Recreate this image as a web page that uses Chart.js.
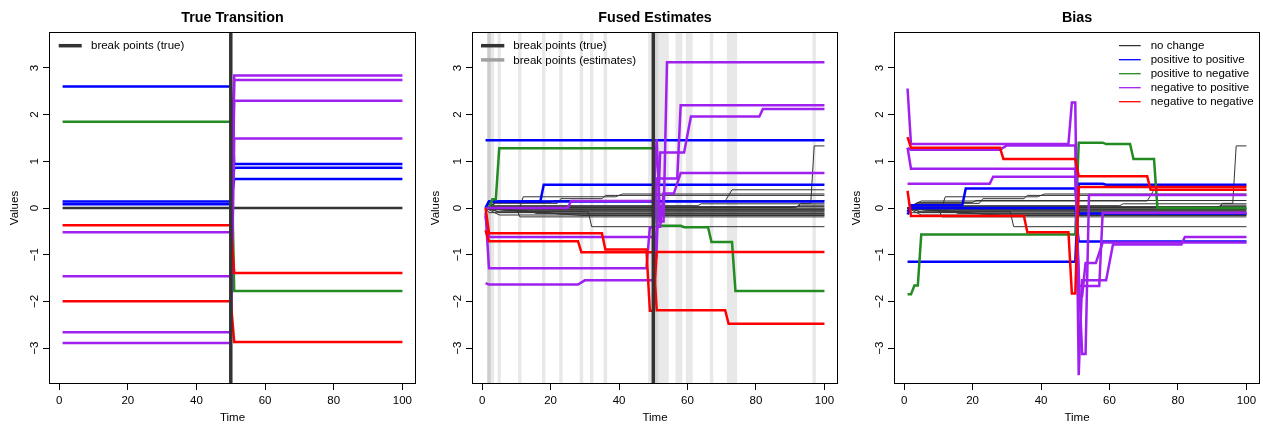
<!DOCTYPE html>
<html>
<head>
<meta charset="utf-8">
<script src="https://cdn.jsdelivr.net/npm/chart.js@4.4.1/dist/chart.umd.min.js"></script>
<style>
  body { margin: 0; background: #fff; }
  #wrap { position: relative; width: 1263px; height: 424px; }
  #wrap canvas { position: absolute; top: 0; }
</style>
</head>
<body>
<div id="wrap">
  <canvas id="c1" width="421" height="424" style="left:0px"></canvas>
  <canvas id="c2" width="421" height="424" style="left:421px"></canvas>
  <canvas id="c3" width="421" height="424" style="left:842px"></canvas>
</div>
<script>
// axes
const xTicks = [0, 20, 40, 60, 80, 100];
const yTicks = [-3, -2, -1, 0, 1, 2, 3];
const xMin = -2.96, xMax = 103.96;
const yMin = -3.77, yMax = 3.77;

// break points
const trueBreak = 50;
const estBreaks = [2, 2, 2, 3, 5, 11, 18, 23, 29, 32, 36, 49, 51, 51, 52, 53, 54, 57, 58, 60, 61, 67, 72, 73, 74, 97];

// true levels [before, after]
const trueNoChange = [[0, 0]];
const truePosPos = [[2.60, 0.94], [0.08, 0.62], [0.14, 0.86]];
const truePosNeg = [[1.85, -1.78]];
const trueNegPos = [[-2.66, 2.74], [-1.46, 2.30], [-0.52, 2.84], [-2.89, 1.49]];
const trueNegNeg = [[-2.00, -2.87], [-0.37, -1.39]];

// fused estimates, [time, value] vertices of each path
const fusedNoChange = [
  [[1, 0], [11, 0], [12, 0.24], [39, 0.24], [41, 0.30], [100, 0.30]],
  [[1, 0], [5, 0.15], [71, 0.15], [73, 0.39], [100, 0.39]],
  [[1, 0], [92, 0.02], [93, 0.10], [96, 0.10], [97, 1.33], [100, 1.33]],
  [[1, 0], [5, -0.08], [31, -0.08], [32, -0.40], [100, -0.40]],
  [[1, 0], [10, 0], [11, -0.19], [100, -0.19]],
  [[1, 0], [4, 0.10], [22, 0.10], [23, 0.20], [35, 0.20], [36, 0.27], [100, 0.27]],
  [[1, 0], [3, 0.05], [63, 0.05], [64, 0.09], [100, 0.09]],
  [[1, 0], [2, 0.03], [100, 0.03]],
  [[1, 0], [6, -0.05], [100, -0.05]],
  [[1, 0], [2, -0.10], [15, -0.10], [16, -0.12], [100, -0.12]],
  [[1, 0], [5, -0.15], [100, -0.15]],
  [[1, 0], [11, -0.07], [100, -0.07]],
  [[1, 0], [3, -0.03], [100, -0.03]],
  [[1, 0], [100, 0]],
  [[1, 0], [2, 0.01], [91, 0.01], [93, 0.06], [100, 0.06]],
  [[1, 0], [5, -0.09], [100, -0.09]],
  [[1, 0], [18, -0.02], [100, -0.02]],
  [[1, 0], [23, -0.13], [100, -0.13]],
  [[1, 0], [29, -0.16], [100, -0.16]],
  [[1, 0], [4, 0.12], [20, 0.12], [21, 0.16], [100, 0.16]]
];
const fusedPosPos = [
  [[1, 1.45], [100, 1.45]],
  [[1, 0], [2, 0.14], [17, 0.14], [18, 0.50], [100, 0.50]],
  [[1, 0], [2, 0.14], [100, 0.14]]
];
const fusedPosNeg = [
  [[1, 0], [2, 0], [3, 0.19], [4, 0.19], [5, 1.28], [50, 1.28], [51, -0.38], [58, -0.38], [59, -0.41], [66, -0.41], [67, -0.73], [73, -0.73], [74, -1.78], [100, -1.78]]
];
const fusedNegPos = [
  [[1, -0.10], [2, -1.29], [48, -1.29], [49, -0.41], [50, -0.41], [51, -0.84], [52, 1.19], [59, 1.19], [61, 1.96], [81, 1.96], [82, 2.12], [100, 2.12]],
  [[1, -0.17], [2, -0.62], [50, -0.62], [51, 0.63], [57, 0.63], [58, 2.20], [100, 2.20]],
  [[1, 0], [25, 0], [26, 0.15], [50, 0.15], [51, 1.47], [52, -0.29], [53, -0.29], [54, 3.12], [100, 3.12]],
  [[1, -1.61], [2, -1.64], [28, -1.64], [30, -1.55], [50, -1.55], [51, -0.40], [52, -0.40], [53, 0.31], [56, 0.31], [58, 0.75], [100, 0.75]]
];
const fusedNegNeg = [
  [[1, -0.48], [2, -0.71], [28, -0.71], [29, -0.95], [50, -0.95], [51, -2.19], [71, -2.19], [72, -2.48], [100, -2.48]],
  [[1, 0], [2, -0.54], [35, -0.54], [36, -0.89], [48, -0.89], [49, -2.20], [50, -2.20], [51, -0.94], [100, -0.94]]
];

// bias paths (no change series have a true value of 0, so their bias is the estimate)
const biasNoChange = fusedNoChange;
const biasPosPos = [
  [[1, -1.15], [50, -1.15], [51, 0.52], [58, 0.52], [59, 0.50], [100, 0.50]],
  [[1, -0.08], [2, 0.06], [17, 0.06], [18, 0.42], [50, 0.42], [51, -0.12], [100, -0.12]],
  [[1, -0.14], [2, 0], [50, 0], [51, -0.72], [100, -0.72]]
];
const biasPosNeg = [
  [[1, -1.85], [2, -1.85], [3, -1.66], [4, -1.66], [5, -0.57], [50, -0.57], [51, 1.40], [58, 1.40], [59, 1.37], [66, 1.37], [67, 1.05], [73, 1.05], [74, 0], [100, 0]]
];
const biasNegPos = [
  [[1, 2.56], [2, 1.37], [48, 1.37], [49, 2.26], [50, 2.26], [51, -3.58], [52, -1.55], [59, -1.55], [61, -0.78], [81, -0.78], [82, -0.62], [100, -0.62]],
  [[1, 1.29], [2, 0.84], [50, 0.84], [51, -1.67], [57, -1.67], [58, -0.10], [100, -0.10]],
  [[1, 0.52], [25, 0.52], [26, 0.67], [50, 0.67], [51, -1.37], [52, -3.13], [53, -3.13], [54, 0.28], [100, 0.28]],
  [[1, 1.28], [2, 1.25], [28, 1.25], [30, 1.34], [50, 1.34], [51, -1.89], [52, -1.89], [53, -1.18], [56, -1.18], [58, -0.74], [100, -0.74]]
];
const biasNegNeg = [
  [[1, 1.52], [2, 1.29], [28, 1.29], [29, 1.05], [50, 1.05], [51, 0.68], [71, 0.68], [72, 0.39], [100, 0.39]],
  [[1, 0.37], [2, -0.17], [35, -0.17], [36, -0.52], [48, -0.52], [49, -1.83], [50, -1.83], [51, 0.45], [100, 0.45]]
];

const colNone = '#333333', colPP = '#0000ff', colPN = '#228b22', colNP = '#a020f0', colNN = '#ff0000';
const colTrueBreak = '#333333', colEstLegend = '#a0a0a0', colEstBand = 'rgba(180,180,180,0.3)';

Chart.defaults.font.family = '"Liberation Sans", Arial, Helvetica, sans-serif';
Chart.defaults.color = '#000';

function lineSet(points, color, width) {
  return {
    data: points.map(p => ({ x: p[0], y: p[1] })),
    borderColor: color,
    borderWidth: width,
    pointRadius: 0,
    tension: 0,
    fill: false
  };
}

function vLine(t, color, width) {
  return lineSet([[t, yMin], [t, yMax]], color, width);
}

function stepPath(pair) {
  return [[1, pair[0]], [trueBreak, pair[0]], [trueBreak + 1, pair[1]], [100, pair[1]]];
}

// box round the plot region
const boxPlugin = {
  id: 'box',
  afterDraw(chart) {
    const a = chart.chartArea, ctx = chart.ctx;
    ctx.save();
    ctx.strokeStyle = '#000';
    ctx.lineWidth = 1;
    ctx.strokeRect(a.left + 0.5, a.top + 0.5, a.right - a.left - 1, a.bottom - a.top - 1);
    ctx.restore();
  }
};

// legend drawn inside the plot, as in R
const rLegend = {
  id: 'rlegend',
  afterDraw(chart, args, opts) {
    if (!opts.items) return;
    const a = chart.chartArea, ctx = chart.ctx;
    ctx.save();
    ctx.font = '11.5px "Liberation Sans", Arial, sans-serif';
    ctx.textBaseline = 'middle';
    ctx.textAlign = 'left';
    opts.items.forEach((it, i) => {
      const y = a.top + opts.y0 + i * opts.dy;
      ctx.strokeStyle = it.color;
      ctx.lineWidth = it.width;
      ctx.beginPath();
      ctx.moveTo(a.left + opts.x1, y);
      ctx.lineTo(a.left + opts.x2, y);
      ctx.stroke();
      ctx.fillStyle = '#000';
      ctx.fillText(it.label, a.left + opts.tx, y + 0.5);
    });
    ctx.restore();
  }
};

function minus(v) {
  return v < 0 ? '\u2212' + Math.abs(v) : String(v);
}

function makeChart(id, title, datasets, leftW, rightPad, legend) {
  // datasets listed bottom to top; chart.js paints index 0 last
  datasets.reverse();
  return new Chart(document.getElementById(id), {
    type: 'line',
    data: { datasets: datasets },
    options: {
      responsive: false,
      animation: false,
      devicePixelRatio: 1,
      layout: { padding: { left: 0, right: rightPad, top: 0, bottom: 0 } },
      plugins: {
        legend: { display: false },
        tooltip: { enabled: false },
        title: {
          display: true,
          text: title,
          fullSize: false,
          color: '#000',
          font: { size: 14.3, weight: 'bold', lineHeight: 1 },
          padding: { top: 11, bottom: 6.7 }
        },
        rlegend: legend
      },
      scales: {
        x: {
          type: 'linear',
          min: xMin,
          max: xMax,
          afterBuildTicks: s => { s.ticks = xTicks.map(v => ({ value: v })); },
          afterFit: s => { s.height = 40; },
          grid: { display: true, drawOnChartArea: false, drawTicks: true, tickLength: 6, color: '#000', tickColor: '#000' },
          border: { display: false },
          ticks: { padding: 4, autoSkip: false, maxRotation: 0, color: '#000', font: { size: 11.5 } },
          title: { display: true, text: 'Time', color: '#000', font: { size: 11.5, lineHeight: 1 }, padding: 0 }
        },
        y: {
          type: 'linear',
          min: yMin,
          max: yMax,
          afterBuildTicks: s => { s.ticks = yTicks.map(v => ({ value: v })); },
          afterFit: s => { s.width = leftW; },
          grid: { display: true, drawOnChartArea: false, drawTicks: true, tickLength: 6, color: '#000', tickColor: '#000' },
          border: { display: false },
          ticks: { padding: 1.5, autoSkip: false, minRotation: 90, maxRotation: 90, crossAlign: 'center', color: '#000', font: { size: 11.5 }, callback: v => minus(v) },
          title: { display: true, text: 'Values', color: '#000', font: { size: 11.5, lineHeight: 1 }, padding: { top: 9, bottom: 0 } }
        }
      }
    },
    plugins: [boxPlugin, rLegend]
  });
}

const wThick = 2.5, wThin = 1;

// panel 1: true transition
let ds1 = [];
trueNoChange.forEach(p => ds1.push(lineSet(stepPath(p), colNone, wThick)));
truePosPos.forEach(p => ds1.push(lineSet(stepPath(p), colPP, wThick)));
truePosNeg.forEach(p => ds1.push(lineSet(stepPath(p), colPN, wThick)));
trueNegPos.forEach(p => ds1.push(lineSet(stepPath(p), colNP, wThick)));
trueNegNeg.forEach(p => ds1.push(lineSet(stepPath(p), colNN, wThick)));
ds1.push(vLine(trueBreak, colTrueBreak, 3.5));
makeChart('c1', 'True Transition', ds1, 49, 5, {
  items: [{ label: 'break points (true)', color: colTrueBreak, width: 3.5 }],
  x1: 9.7, x2: 32.7, tx: 42, y0: 13.7, dy: 14.2
});

// panel 2: fused estimates
let ds2 = [];
estBreaks.forEach(t => ds2.push(vLine(t, colEstBand, 3.4)));
fusedNoChange.forEach(p => ds2.push(lineSet(p, colNone, wThin)));
fusedPosPos.forEach(p => ds2.push(lineSet(p, colPP, wThick)));
fusedPosNeg.forEach(p => ds2.push(lineSet(p, colPN, wThick)));
fusedNegPos.forEach(p => ds2.push(lineSet(p, colNP, wThick)));
fusedNegNeg.forEach(p => ds2.push(lineSet(p, colNN, wThick)));
ds2.push(vLine(trueBreak, colTrueBreak, 3.5));
makeChart('c2', 'Fused Estimates', ds2, 51, 4, {
  items: [
    { label: 'break points (true)', color: colTrueBreak, width: 3.5 },
    { label: 'break points (estimates)', color: colEstLegend, width: 3.5 }
  ],
  x1: 9, x2: 32.3, tx: 41.3, y0: 13.7, dy: 14.2
});

// panel 3: bias
let ds3 = [];
biasNoChange.forEach(p => ds3.push(lineSet(p, colNone, wThin)));
biasPosPos.forEach(p => ds3.push(lineSet(p, colPP, wThick)));
biasPosNeg.forEach(p => ds3.push(lineSet(p, colPN, wThick)));
biasNegPos.forEach(p => ds3.push(lineSet(p, colNP, wThick)));
biasNegNeg.forEach(p => ds3.push(lineSet(p, colNN, wThick)));
makeChart('c3', 'Bias', ds3, 52, 3, {
  items: [
    { label: 'no change', color: '#000', width: 1 },
    { label: 'positive to positive', color: colPP, width: 1.3 },
    { label: 'positive to negative', color: colPN, width: 1.3 },
    { label: 'negative to positive', color: colNP, width: 1.3 },
    { label: 'negative to negative', color: colNN, width: 1.3 }
  ],
  x1: 225, x2: 246.7, tx: 256.7, y0: 13.7, dy: 14
});
</script>
</body>
</html>
